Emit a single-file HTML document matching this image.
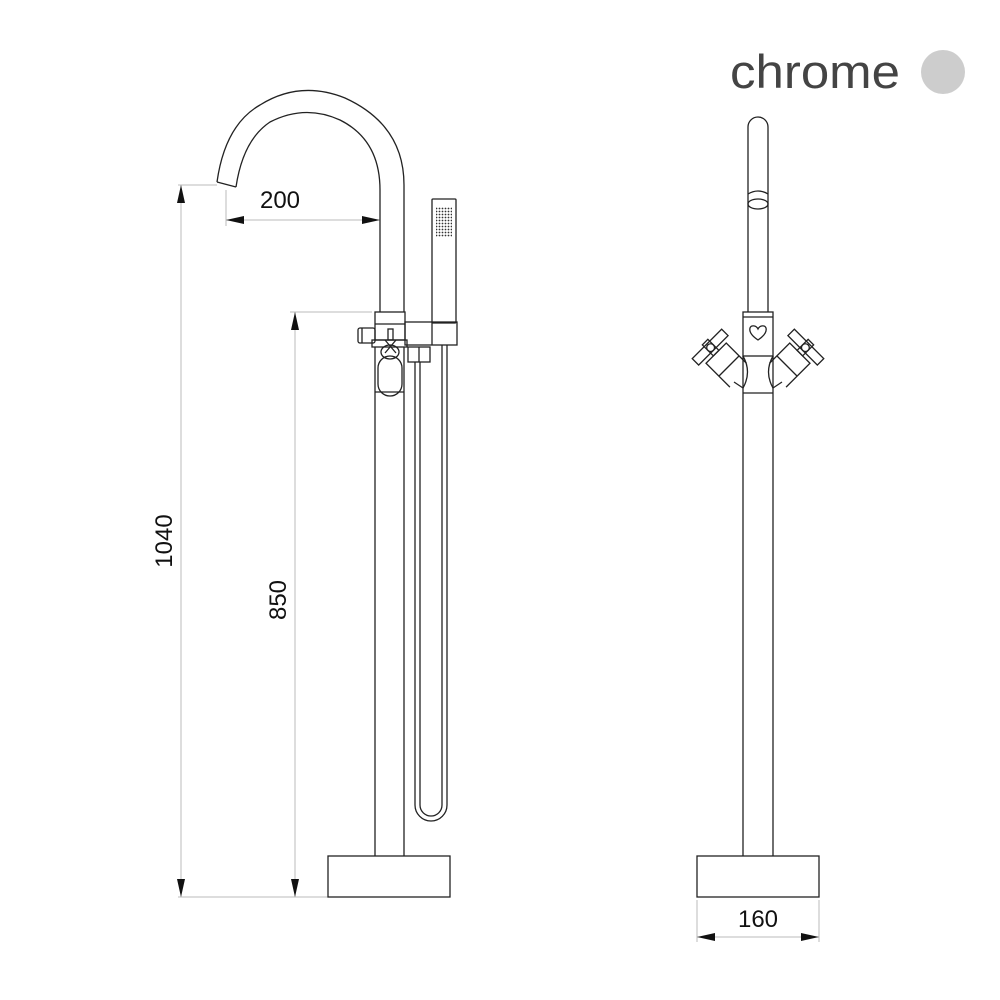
<!DOCTYPE html>
<html><head><style>body{margin:0;background:#fff}svg{display:block}</style></head><body>
<svg width="1000" height="1000" viewBox="0 0 1000 1000" xmlns="http://www.w3.org/2000/svg" font-family="Liberation Sans, sans-serif">
<defs>
<pattern id="dots" width="3" height="3" patternUnits="userSpaceOnUse"><circle cx="1.5" cy="1.5" r="0.9" fill="#333"/></pattern>
</defs>
<text x="730" y="88" font-size="47" fill="#444" textLength="170" lengthAdjust="spacingAndGlyphs">chrome</text>
<circle cx="943" cy="72" r="22" fill="#cdcdcd"/>
<g stroke="#bbb" stroke-width="1" fill="none">
<line x1="178" y1="185" x2="217" y2="185"/>
<line x1="181" y1="185" x2="181" y2="897"/>
<line x1="178" y1="897" x2="328" y2="897"/>
<line x1="290" y1="312" x2="372" y2="312"/>
<line x1="295" y1="312" x2="295" y2="897"/>
<line x1="226" y1="190" x2="226" y2="226"/>
<line x1="226" y1="220" x2="380" y2="220"/>
<line x1="697" y1="900" x2="697" y2="942"/>
<line x1="819" y1="900" x2="819" y2="942"/>
<line x1="697" y1="937" x2="819" y2="937"/>
</g>
<g fill="#111">
<polygon points="181,185 177,203 185,203"/>
<polygon points="181,897 177,879 185,879"/>
<polygon points="295,312 291,330 299,330"/>
<polygon points="295,897 291,879 299,879"/>
<polygon points="226,220 244,216 244,224"/>
<polygon points="380,220 362,216 362,224"/>
<polygon points="697,937 715,933 715,941"/>
<polygon points="819,937 801,933 801,941"/>
</g>
<g font-size="24" fill="#111">
<text x="280" y="208" text-anchor="middle">200</text>
<text x="758" y="927" text-anchor="middle">160</text>
<text transform="translate(172,541) rotate(-90)" text-anchor="middle">1040</text>
<text transform="translate(286,600) rotate(-90)" text-anchor="middle">850</text>
</g>
<g stroke="#222" stroke-width="1.3" fill="none">
<path d="M217,182 Q225,125 260,105 Q300,80 345,98 Q404,125 404,185 L404,312"/>
<path d="M236,187 Q243,140 270,122 Q305,104 340,120 Q380,140 380,190 L380,312"/>
<line x1="217" y1="182" x2="236" y2="187"/>
<rect x="375" y="312" width="30" height="28"/>
<line x1="375" y1="324" x2="405" y2="324"/>
<rect x="372" y="340" width="35" height="7"/>
<rect x="358" y="328" width="17" height="15" rx="2"/>
<line x1="362" y1="328" x2="362" y2="343"/>
<rect x="388" y="329" width="5" height="11"/>
<path d="M385,353 L396,340 M385,340 L396,353"/>
<ellipse cx="390" cy="352" rx="9" ry="7"/>
<rect x="378" y="356" width="24" height="40" rx="12"/>
<line x1="375" y1="347" x2="375" y2="856"/>
<line x1="404" y1="347" x2="404" y2="856"/>
<line x1="375" y1="392" x2="404" y2="392"/>
<rect x="405" y="322" width="52" height="23"/>
<line x1="432" y1="322" x2="432" y2="345"/>
<rect x="432" y="199" width="24" height="124" rx="1"/>
<rect x="436" y="207" width="16" height="30" fill="url(#dots)" stroke="none"/>
<rect x="408" y="347" width="22" height="15"/>
<line x1="419" y1="347" x2="419" y2="362"/>
<path d="M415,362 L415,805 A16,16 0 0 0 447,805 L447,345"/>
<path d="M420,362 L420,805 A11,11 0 0 0 442,805 L442,345"/>
<rect x="328" y="856" width="122" height="41"/>
<path d="M748,312 L748,127 A10,10 0 0 1 768,127 L768,312"/>
<path d="M748,194 Q758,188 768,194"/>
<ellipse cx="758" cy="204" rx="10" ry="5"/>
<rect x="743" y="312" width="30" height="44"/>
<line x1="743" y1="317" x2="773" y2="317"/>
<path d="M758,340 C752,336 749,332 750,328 C751,325 756,325 758,329 C760,325 765,325 766,328 C767,332 764,336 758,340Z"/>
<line x1="743" y1="356" x2="743" y2="856"/>
<line x1="773" y1="356" x2="773" y2="856"/>
<line x1="743" y1="393" x2="773" y2="393"/>
<g transform="translate(729,366) rotate(-45) scale(1.3)" stroke-width="1">
<path d="M-11,12 L-11,-14 L11,-14 L11,8"/>
<line x1="-11" y1="0" x2="11" y2="0"/>
<rect x="-3" y="-26" width="6" height="12"/>
<rect x="-16" y="-24" width="32" height="7"/>
<circle cx="0" cy="-20" r="3"/>
</g>
<path d="M743,356 Q752,372 743,388 L734,382"/>
<g transform="translate(787,366) rotate(45) scale(1.3)" stroke-width="1">
<path d="M11,12 L11,-14 L-11,-14 L-11,8"/>
<line x1="-11" y1="0" x2="11" y2="0"/>
<rect x="-3" y="-26" width="6" height="12"/>
<rect x="-16" y="-24" width="32" height="7"/>
<circle cx="0" cy="-20" r="3"/>
</g>
<path d="M773,356 Q764,372 773,388 L782,382"/>
<rect x="697" y="856" width="122" height="41"/>
</g>
</svg>
</body></html>
